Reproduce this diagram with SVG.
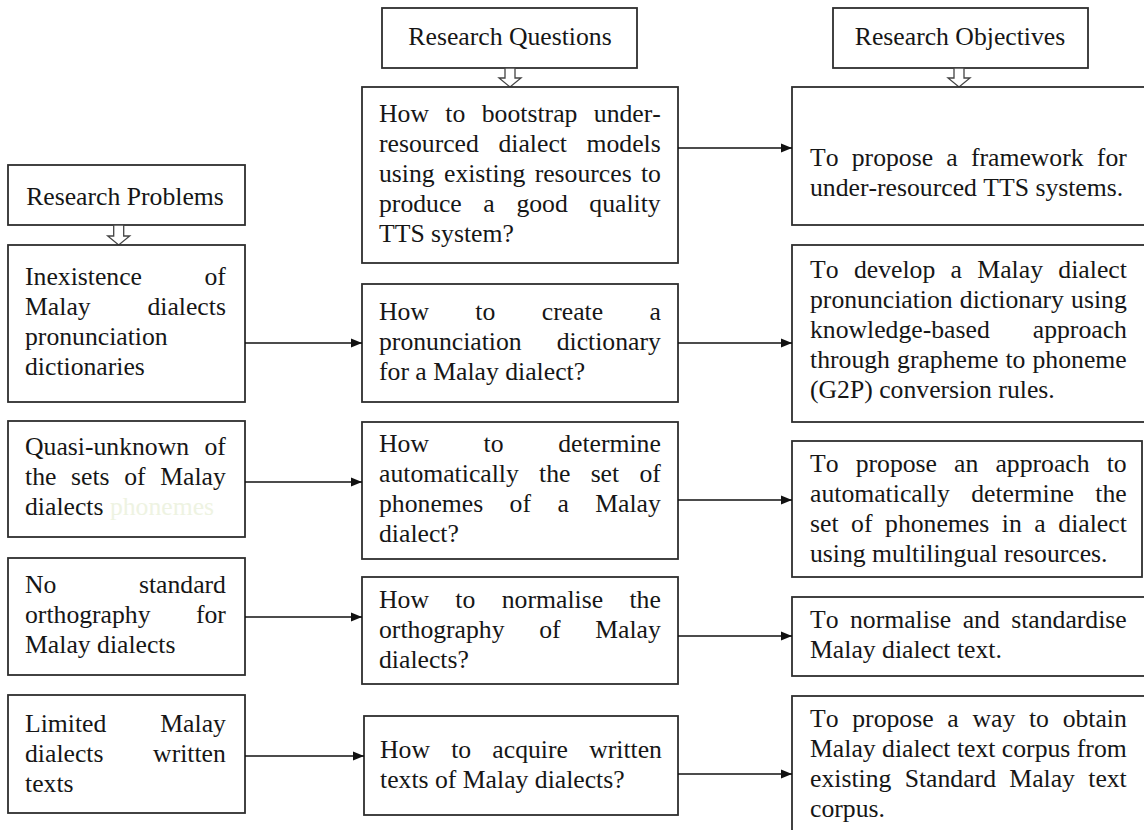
<svg xmlns="http://www.w3.org/2000/svg" width="1144" height="830" viewBox="0 0 1144 830">
<style>
.box{fill:#fff;stroke:#2e2e2e;stroke-width:1.8}
.hol{fill:#fff;stroke:#444;stroke-width:1.3;stroke-linejoin:miter}
.t{font-family:"Liberation Serif","Times New Roman",serif;font-size:25.7px;fill:#161616;font-kerning:none}
.h{text-anchor:middle}
.faint{fill:#eef3e2}
.con{stroke:#111;stroke-width:1.6;fill:none;marker-end:url(#ah)}
</style>
<defs>
<marker id="ah" markerUnits="userSpaceOnUse" markerWidth="12" markerHeight="10" refX="11" refY="5" orient="auto">
<path d="M0,0.5 L11,5 L0,9.5 Z" fill="#111"/>
</marker>
</defs>
<rect width="1144" height="830" fill="#fff"/>

<g id="hdr-questions">
<rect class="box" x="382" y="8" width="255" height="60"/>
<text class="t h" x="510" y="45">Research Questions</text>
<path class="hol" d="M505,68 H515 V78 H521 L510,87 L499,78 H505 Z"/>
</g>
<g id="hdr-objectives">
<rect class="box" x="833" y="8" width="255" height="60"/>
<text class="t h" x="960" y="45">Research Objectives</text>
<path class="hol" d="M954,68 H964 V78 H970 L959,87 L948,78 H954 Z"/>
</g>
<g id="hdr-problems">
<rect class="box" x="8" y="165" width="237" height="60"/>
<text class="t h" x="125" y="205">Research Problems</text>
<path class="hol" d="M113.7,225 H123.7 V236 H129.7 L118.7,245 L107.7,236 H113.7 Z"/>
</g>

<g id="p1">
<rect class="box" x="8" y="245" width="237" height="157"/>
<text class="t" x="25" y="285" style="word-spacing:56.1px">Inexistence of</text>
<text class="t" x="25" y="315" style="word-spacing:50.4px">Malay dialects</text>
<text class="t" x="25" y="345">pronunciation</text>
<text class="t" x="25" y="375">dictionaries</text>
</g>
<g id="p2">
<rect class="box" x="8" y="421" width="237" height="116"/>
<text class="t" x="25" y="455" style="word-spacing:9px">Quasi-unknown of</text>
<text class="t" x="25" y="485" style="word-spacing:8.2px">the sets of Malay</text>
<text class="t" x="25" y="515">dialects <tspan class="faint">phonemes</tspan></text>
</g>
<g id="p3">
<rect class="box" x="8" y="558" width="237" height="117"/>
<text class="t" x="25" y="593" style="word-spacing:76.1px">No standard</text>
<text class="t" x="25" y="623" style="word-spacing:39px">orthography for</text>
<text class="t" x="25" y="653">Malay dialects</text>
</g>
<g id="p4">
<rect class="box" x="8" y="695" width="237" height="118"/>
<text class="t" x="25" y="732" style="word-spacing:47.5px">Limited Malay</text>
<text class="t" x="25" y="762" style="word-spacing:43.2px">dialects written</text>
<text class="t" x="25" y="792">texts</text>
</g>

<g id="q1">
<rect class="box" x="362" y="87" width="316" height="176"/>
<text class="t" x="379" y="122" style="word-spacing:10px">How to bootstrap under-</text>
<text class="t" x="379" y="152" style="word-spacing:13.2px">resourced dialect models</text>
<text class="t" x="379" y="182" style="word-spacing:2.9px">using existing resources to</text>
<text class="t" x="379" y="212" style="word-spacing:15.2px">produce a good quality</text>
<text class="t" x="379" y="242">TTS system?</text>
</g>
<g id="q2">
<rect class="box" x="362" y="284" width="316" height="118"/>
<text class="t" x="379" y="320" style="word-spacing:40px">How to create a</text>
<text class="t" x="379" y="350" style="word-spacing:28.6px">pronunciation dictionary</text>
<text class="t" x="379" y="380">for a Malay dialect?</text>
</g>
<g id="q3">
<rect class="box" x="362" y="422" width="316" height="137"/>
<text class="t" x="379" y="452" style="word-spacing:48.2px">How to determine</text>
<text class="t" x="379" y="482" style="word-spacing:13.8px">automatically the set of</text>
<text class="t" x="379" y="512" style="word-spacing:20px">phonemes of a Malay</text>
<text class="t" x="379" y="542">dialect?</text>
</g>
<g id="q4">
<rect class="box" x="362" y="577" width="316" height="107"/>
<text class="t" x="379" y="608" style="word-spacing:20px">How to normalise the</text>
<text class="t" x="379" y="638" style="word-spacing:28.2px">orthography of Malay</text>
<text class="t" x="379" y="668">dialects?</text>
</g>
<g id="q5">
<rect class="box" x="364" y="716" width="314" height="99"/>
<text class="t" x="380" y="758" style="word-spacing:14.8px">How to acquire written</text>
<text class="t" x="380" y="788">texts of Malay dialects?</text>
</g>

<g id="o1">
<rect class="box" x="792" y="87" width="356" height="138"/>
<text class="t" x="810" y="166" style="word-spacing:6.8px">To propose a framework for</text>
<text class="t" x="810" y="196">under-resourced TTS systems.</text>
</g>
<g id="o2">
<rect class="box" x="792" y="245" width="356" height="177"/>
<text class="t" x="810" y="278" style="word-spacing:8.95px">To develop a Malay dialect</text>
<text class="t" x="810" y="308" style="word-spacing:0.7px">pronunciation dictionary using</text>
<text class="t" x="810" y="338" style="word-spacing:36.6px">knowledge-based approach</text>
<text class="t" x="810" y="368" style="word-spacing:0.7px">through grapheme to phoneme</text>
<text class="t" x="810" y="398">(G2P) conversion rules.</text>
</g>
<g id="o3">
<rect class="box" x="792" y="441" width="350" height="136"/>
<text class="t" x="810" y="472" style="word-spacing:10.7px">To propose an approach to</text>
<text class="t" x="810" y="502" style="word-spacing:15px">automatically determine the</text>
<text class="t" x="810" y="532" style="word-spacing:6.15px">set of phonemes in a dialect</text>
<text class="t" x="810" y="562">using multilingual resources.</text>
</g>
<g id="o4">
<rect class="box" x="792" y="597" width="356" height="79"/>
<text class="t" x="810" y="628" style="word-spacing:5px">To normalise and standardise</text>
<text class="t" x="810" y="658">Malay dialect text.</text>
</g>
<g id="o5">
<rect class="box" x="792" y="696" width="356" height="150"/>
<text class="t" x="810" y="727" style="word-spacing:7.3px">To propose a way to obtain</text>
<text class="t" x="810" y="757">Malay dialect text corpus from</text>
<text class="t" x="810" y="787" style="word-spacing:6.9px">existing Standard Malay text</text>
<text class="t" x="810" y="817">corpus.</text>
</g>

<g id="connectors">
<line class="con" x1="245" y1="343" x2="362" y2="343"/>
<line class="con" x1="245" y1="482" x2="362" y2="482"/>
<line class="con" x1="245" y1="617" x2="362" y2="617"/>
<line class="con" x1="245" y1="756" x2="364" y2="756"/>
<line class="con" x1="678" y1="148" x2="792" y2="148"/>
<line class="con" x1="678" y1="343" x2="792" y2="343"/>
<line class="con" x1="678" y1="500" x2="792" y2="500"/>
<line class="con" x1="678" y1="636" x2="792" y2="636"/>
<line class="con" x1="678" y1="774" x2="792" y2="774"/>
</g>
</svg>
